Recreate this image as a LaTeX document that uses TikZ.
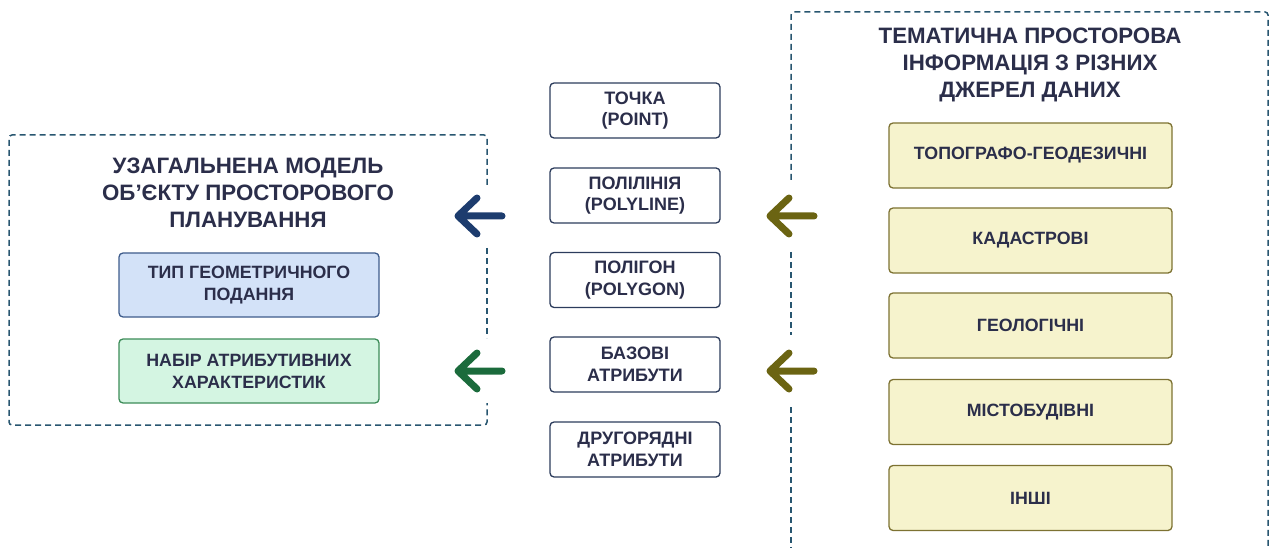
\documentclass[tikz,border=0pt]{standalone}
\usepackage{fontspec}
\setmainfont{Liberation Sans}
\begin{document}
\definecolor{ink}{HTML}{2B2E4A}
\definecolor{frame}{HTML}{285670}
\definecolor{navyarrow}{HTML}{1D3C6E}
\definecolor{greenarrow}{HTML}{1B6B3C}
\definecolor{olivearrow}{HTML}{6B6412}
\definecolor{bluefill}{HTML}{D3E2F8}
\definecolor{blueline}{HTML}{3E5C8C}
\definecolor{greenfill}{HTML}{D4F5E2}
\definecolor{greenline}{HTML}{3C8C58}
\definecolor{yellowfill}{HTML}{F6F3CD}
\definecolor{yellowline}{HTML}{7D7232}
\definecolor{midline}{HTML}{2C3C5C}
\begin{tikzpicture}[x=1pt,y=-1pt,
  every node/.style={text=ink,font=\bfseries},
  title/.style={align=center,font=\bfseries\fontsize{22.3}{27}\selectfont},
  midbox/.style={draw=midline,line width=1.3pt,rounded corners=4pt,fill=white,
    minimum width=170pt,minimum height=55pt,align=center,
    font=\bfseries\fontsize{18}{21.5}\selectfont},
  attrbox/.style={line width=1.3pt,rounded corners=4pt,
    minimum width=260pt,minimum height=64pt,align=center,
    font=\bfseries\fontsize{17.8}{22}\selectfont},
  srcbox/.style={draw=yellowline,fill=yellowfill,line width=1.3pt,rounded corners=4pt,
    minimum width=283pt,minimum height=65pt,align=center,
    font=\bfseries\fontsize{17.8}{22}\selectfont},
  container/.style={draw=frame,line width=1.5pt,dash pattern=on 6pt off 4pt,rounded corners=3pt},
  bigarrow/.style={line width=7pt,line cap=round,line join=round}
]
\useasboundingbox (0,0) rectangle (1272,548);

% left container: generalised planning-object model
\draw[container] (487,185) -- (487,135) -- (9,135) -- (9,425) -- (487,425) -- (487,403);
\draw[container] (487,248) -- (487,338);
\node[title] (lefttitle) at (248,193) {УЗАГАЛЬНЕНА МОДЕЛЬ\\ОБ’ЄКТУ ПРОСТОРОВОГО\\ПЛАНУВАННЯ};
\node[attrbox,draw=blueline,fill=bluefill] (geomtype) at (249,285) {ТИП ГЕОМЕТРИЧНОГО\\ПОДАННЯ};
\node[attrbox,draw=greenline,fill=greenfill] (attrset) at (249,371) {НАБІР АТРИБУТИВНИХ\\ХАРАКТЕРИСТИК};

% middle column: geometry types and attributes
\node[midbox] (point) at (635,110.5) {ТОЧКА\\(POINT)};
\node[midbox] (polyline) at (635,195.5) {ПОЛІЛІНІЯ\\(POLYLINE)};
\node[midbox] (polygon) at (635,280) {ПОЛІГОН\\(POLYGON)};
\node[midbox] (baseattr) at (635,364.5) {БАЗОВІ\\АТРИБУТИ};
\node[midbox] (secattr) at (635,449.5) {ДРУГОРЯДНІ\\АТРИБУТИ};

% right container: thematic spatial data sources
\draw[container] (791,180) -- (791,12) -- (1268,12) -- (1268,560);
\draw[container] (791,252) -- (791,335);
\draw[container] (791,407) -- (791,560);
\node[title] (righttitle) at (1030,64.5) {ТЕМАТИЧНА ПРОСТОРОВА\\ІНФОРМАЦІЯ З РІЗНИХ\\ДЖЕРЕЛ ДАНИХ};
\node[srcbox] (topo) at (1030.5,155.5) {ТОПОГРАФО-ГЕОДЕЗИЧНІ};
\node[srcbox] (cadastre) at (1030.5,240.5) {КАДАСТРОВІ};
\node[srcbox] (geology) at (1030.5,325.5) {ГЕОЛОГІЧНІ};
\node[srcbox] (urban) at (1030.5,412) {МІСТОБУДІВНІ};
\node[srcbox] (other) at (1030.5,498) {ІНШІ};

% arrow anchors
\coordinate (aNs) at (502,216);  \coordinate (aNe) at (458,216);
\coordinate (aGs) at (502,371);  \coordinate (aGe) at (458,371);
\coordinate (aO1s) at (814,216); \coordinate (aO1e) at (770,216);
\coordinate (aO2s) at (814,371); \coordinate (aO2e) at (770,371);

% chevron arrows
\draw[bigarrow,navyarrow] (aNs) -- (aNe) ++(19,-18) -- (aNe) -- ++(19,18);
\draw[bigarrow,greenarrow] (aGs) -- (aGe) ++(19,-18) -- (aGe) -- ++(19,18);
\draw[bigarrow,olivearrow] (aO1s) -- (aO1e) ++(19,-18) -- (aO1e) -- ++(19,18);
\draw[bigarrow,olivearrow] (aO2s) -- (aO2e) ++(19,-18) -- (aO2e) -- ++(19,18);
\end{tikzpicture}
\end{document}
